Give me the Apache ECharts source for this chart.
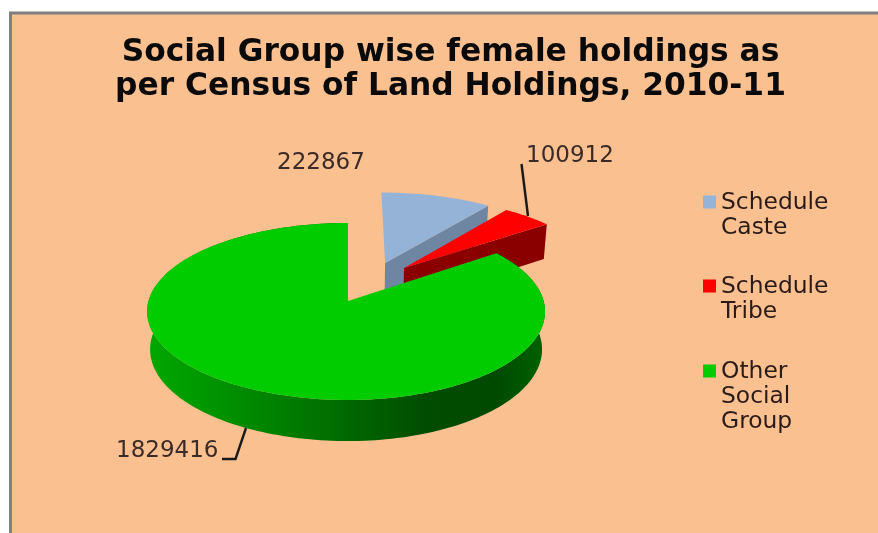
<!DOCTYPE html>
<html><head><meta charset="utf-8">
<style>html,body{margin:0;padding:0;background:#fff}#c{width:878px;height:533px}</style>
<script src="https://cdn.jsdelivr.net/npm/echarts@6/dist/echarts.min.js"></script>
</head><body><div id="c"></div>
<script>
const categories = ['Schedule Caste', 'Schedule Tribe', 'Other Social Group'];
const values = [222867, 100912, 1829416];
const titleLines = ['Social Group wise female holdings as', 'per Census of Land Holdings, 2010-11'];

const total = values.reduce((a, b) => a + b, 0);
const FONT = '"DejaVu Sans", Verdana, sans-serif';
// scene: perspective projection of a unit pie plane
const scene = {cx: 348, cy: 301, rx: 195.6, ry: 87.25, p: 0.1186, depth: 37.5, shrink: 0.985};
const looks = [
  {top: '#95b3d7', wall: '#6f86a3', ox: 0.2, oy: 0.459, sxR: 1.03, sxL: 1, lx: 277, ly: 163, line: null},
  {top: '#ff0000', wall: '#8a0000', ox: 0.30, oy: 0.396, sxR: 1.03, sxL: 1, lx: 526, ly: 156, line: [[521.5, 164], [528, 216]]},
  {top: '#00cc00', wall: null, ox: 0, oy: 0, sxR: 1, sxL: 1.02, lx: 116, ly: 451, line: [[246, 428], [235.5, 459], [222, 459]]}
];
function project(u, v, low) {
  const w = 1 + scene.p * v;
  const k = low ? scene.shrink : 1;
  return [scene.cx + k * scene.rx * u / w,
          scene.cy - k * scene.ry * v / w + (low ? scene.depth / w : 0)];
}
function sliceAngles(i) {
  let before = 0;
  for (let k = 0; k < i; k++) before += values[k];
  return [before / total * Math.PI * 2, (before + values[i]) / total * Math.PI * 2];
}
function arc(i, low, reverse) {
  const [a0, a1] = sliceAngles(i), L = looks[i], pts = [];
  const n = Math.max(8, Math.ceil((a1 - a0) * 40));
  for (let t = 0; t <= n; t++) {
    const a = a0 + (a1 - a0) * t / n;
    const s = Math.sin(a);
    pts.push(project(L.ox + s * (s > 0 ? L.sxR : L.sxL), L.oy + Math.cos(a), low));
  }
  return reverse ? pts.reverse() : pts;
}
function renderSlice(i) {
  const L = looks[i], kids = [];
  const apex = project(L.ox, L.oy, false), apexLow = project(L.ox, L.oy, true);
  if (i === 2) {
    const wallFill = new echarts.graphic.LinearGradient(147, 0, 545, 0, [
      {offset: 0, color: '#00a800'}, {offset: 0.2, color: '#009000'},
      {offset: 0.45, color: '#007000'}, {offset: 0.7, color: '#004c00'},
      {offset: 0.88, color: '#004a00'}, {offset: 1, color: '#006200'}], true);
    kids.push({type: 'polygon', shape: {points: arc(i, false, false).concat(arc(i, true, true))},
      style: {fill: wallFill}});
  } else {
    const hi = arc(i, false, false), lo = arc(i, true, false);
    kids.push({type: 'polygon',
      shape: {points: [apex, hi[hi.length - 1], lo[lo.length - 1], apexLow]},
      style: {fill: L.wall}});
  }
  kids.push({type: 'polygon', shape: {points: [apex].concat(arc(i, false, false))},
    style: {fill: L.top}});
  if (L.line) kids.push({type: 'polyline', shape: {points: L.line},
    style: {stroke: '#1a1a1a', lineWidth: 2.4, fill: null}});
  kids.push({type: 'text', x: L.lx, y: L.ly,
    style: {text: String(values[i]), font: '23px ' + FONT, fill: '#3a2a28',
      textAlign: 'left', textVerticalAlign: 'middle'}});
  return {type: 'group', children: kids};
}
function legendIcon(lines) {
  const box = 76, mid = box / 2 - (lines - 1) * 12.5 - 0.5;
  return 'path://M0 0L0 0M13 ' + box + 'L13 ' + box + 'M0 ' + (mid - 6.5) + 'H13V' + (mid + 6.5) + 'H0Z';
}
const legendCentres = [215, 299, 396.5];

const chart = echarts.init(document.getElementById('c'), null, {renderer: 'canvas'});
chart.setOption({
  animation: false,
  backgroundColor: '#ffffff',
  title: {
    text: titleLines.join('\n'), left: 445.5, top: 31, textAlign: 'center',
    textStyle: {fontFamily: FONT, fontSize: 31.3, fontWeight: 'bold', color: '#0a0a0a', lineHeight: 34}
  },
  graphic: [{type: 'rect', z: -10, silent: true,
    shape: {x: 10.5, y: 13, width: 900, height: 600},
    style: {fill: '#fac090', stroke: '#7f7f7f', lineWidth: 3}}],
  legend: categories.map((name, i) => {
    const lines = name.split(' ').length;
    return {
      data: [{name, icon: legendIcon(lines)}],
      selectedMode: false, orient: 'vertical',
      left: 703, top: legendCentres[i] - 38, itemWidth: 13, itemHeight: 76, itemGap: 0, padding: 0,
      formatter: n => n.split(' ').join('\n'),
      textStyle: {fontFamily: FONT, fontSize: 23.4, color: '#2a1a18', lineHeight: 25}
    };
  }),
  series: categories.map((name, i) => ({
    type: 'custom', name, coordinateSystem: 'none', silent: true, z: i + 1,
    itemStyle: {color: looks[i].top},
    data: [[values[i]]],
    renderItem: () => renderSlice(i)
  }))
});
</script></body></html>
